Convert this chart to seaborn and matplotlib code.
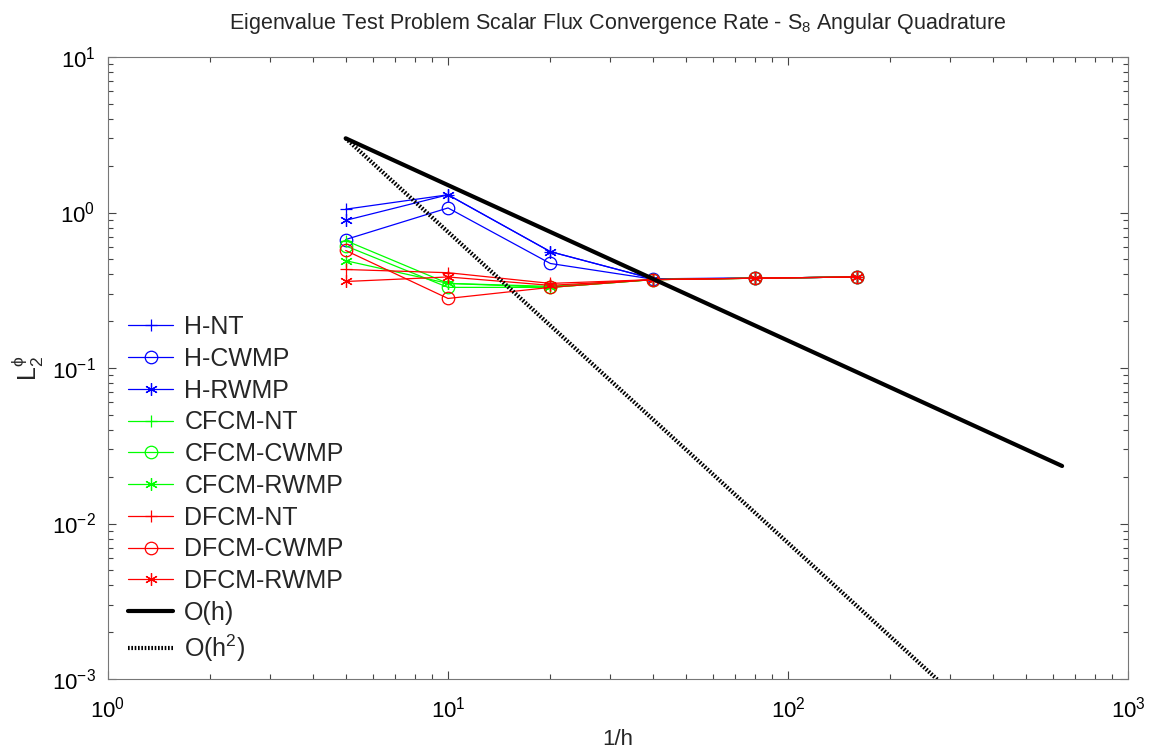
import matplotlib
matplotlib.use("Agg")
import matplotlib.pyplot as plt
import seaborn as sns
import numpy as np
from matplotlib.ticker import LogLocator, NullFormatter

sns.set_theme(style="white")
plt.rcParams['font.family'] = ['Liberation Sans', 'DejaVu Sans']
plt.rcParams['mathtext.fontset'] = 'custom'
plt.rcParams['mathtext.rm'] = 'Liberation Sans'
plt.rcParams['mathtext.it'] = 'Liberation Sans:italic'
plt.rcParams['mathtext.default'] = 'regular'

# Data
cells = [5, 10, 20, 40, 80, 160]
h_nt = [1.05, 1.30, 0.56, 0.375, 0.378, 0.385]
h_cwmp = [0.67, 1.07, 0.47, 0.373, 0.378, 0.385]
h_rwmp = [0.89, 1.30, 0.56, 0.375, 0.378, 0.385]
cfcm_nt = [0.66, 0.35, 0.335, 0.37, 0.378, 0.385]
cfcm_cwmp = [0.61, 0.33, 0.33, 0.37, 0.378, 0.385]
cfcm_rwmp = [0.49, 0.35, 0.33, 0.37, 0.378, 0.385]
dfcm_nt = [0.43, 0.41, 0.35, 0.37, 0.378, 0.385]
dfcm_cwmp = [0.57, 0.28, 0.33, 0.37, 0.378, 0.385]
dfcm_rwmp = [0.36, 0.385, 0.34, 0.37, 0.378, 0.385]

ref_x = [5, 10, 20, 40, 80, 160, 320, 640]
ref_oh = [3.0, 1.5, 0.75, 0.375, 0.1875, 0.09375, 0.046875, 0.0234375]
ref_oh2 = [3.0, 0.75, 0.1875, 0.046875, 0.01171875, 0.0029296875,
           0.000732421875, 0.00018310546875]

series = [
    ("H-NT", h_nt, "#0000ff", "+"),
    ("H-CWMP", h_cwmp, "#0000ff", "o"),
    ("H-RWMP", h_rwmp, "#0000ff", (6, 2, 0)),
    ("CFCM-NT", cfcm_nt, "#00ff00", "+"),
    ("CFCM-CWMP", cfcm_cwmp, "#00ff00", "o"),
    ("CFCM-RWMP", cfcm_rwmp, "#00ff00", (6, 2, 0)),
    ("DFCM-NT", dfcm_nt, "#ff0000", "+"),
    ("DFCM-CWMP", dfcm_cwmp, "#ff0000", "o"),
    ("DFCM-RWMP", dfcm_rwmp, "#ff0000", (6, 2, 0)),
]

fig = plt.figure(figsize=(11.53, 7.5), dpi=100)
ax = fig.add_axes([108/1153, 71/750, 1020/1153, 622/750])

for name, vals, col, mk in series:
    sns.lineplot(x=cells, y=vals, ax=ax, color=col, marker=mk,
                 markerfacecolor='none', markeredgecolor=col,
                 markeredgewidth=0.9, markersize=9, linewidth=0.9,
                 label=name, legend=False)

sns.lineplot(x=ref_x, y=ref_oh, ax=ax, color='black', linewidth=3,
             label='O(h)', legend=False)
sns.lineplot(x=ref_x, y=ref_oh2, ax=ax, color='black', linewidth=3,
             linestyle=(0, (0.4, 0.4)), label='O(h$^2$)', legend=False)

ax.set_xscale('log')
ax.set_yscale('log')
ax.set_xlim(1, 1000)
ax.set_ylim(1e-3, 10)

ax.xaxis.set_major_locator(LogLocator(base=10, numticks=10))
ax.yaxis.set_major_locator(LogLocator(base=10, numticks=10))
ax.xaxis.set_minor_locator(LogLocator(base=10, subs=np.arange(2, 10), numticks=20))
ax.yaxis.set_minor_locator(LogLocator(base=10, subs=np.arange(2, 10), numticks=20))
ax.xaxis.set_minor_formatter(NullFormatter())
ax.yaxis.set_minor_formatter(NullFormatter())

ax.tick_params(which='both', direction='in', top=True, right=True,
               bottom=True, left=True, colors='#444444', labelcolor='black')
ax.tick_params(which='major', length=6, width=0.8, labelsize=16)
ax.tick_params(axis='x', which='major', pad=13)
ax.tick_params(axis='y', which='major', pad=9)
ax.tick_params(which='minor', length=3.5, width=0.8)
for s in ax.spines.values():
    s.set_color('#777777')
    s.set_linewidth(0.8)

ax.set_xlabel('1/h', fontsize=16, labelpad=4)
ax.set_ylabel(r'$L_2^{\phi}$', fontsize=18, labelpad=4)
ax.set_title(r'Eigenvalue Test Problem Scalar Flux Convergence Rate - S$_8$ Angular Quadrature',
             fontsize=15.5, pad=20)

handles, labels = ax.get_legend_handles_labels()
leg = ax.legend(handles, labels, loc='lower left', bbox_to_anchor=(0.005, 0.0),
                frameon=False, fontsize=18, handlelength=1.8, handletextpad=0.45,
                labelspacing=0.31, borderaxespad=0.2)

fig.savefig('out.png', dpi=100, facecolor='white')
